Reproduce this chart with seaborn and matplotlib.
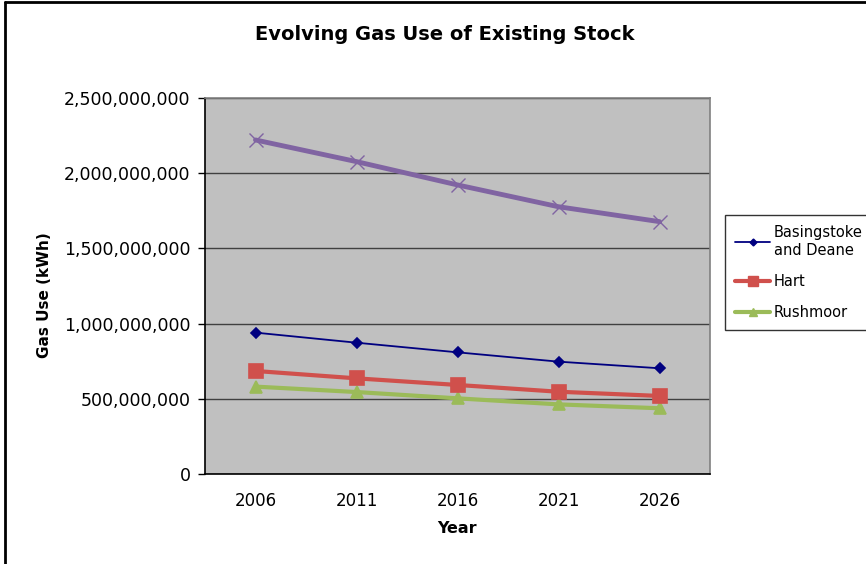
import matplotlib
matplotlib.use("Agg")
import matplotlib.pyplot as plt
import matplotlib.ticker as mticker
from matplotlib.lines import Line2D
import numpy as np
import pandas as pd
import seaborn as sns

years = ["2006", "2011", "2016", "2021", "2026"]
basingstoke = [940e6, 873e6, 809e6, 747e6, 703e6]
hart = [685e6, 636e6, 592e6, 547e6, 519e6]
rushmoor = [581e6, 545e6, 503e6, 463e6, 437e6]
existing_total = [2221e6, 2077e6, 1922e6, 1777e6, 1678e6]

series_names = ["Basingstoke\nand Deane", "Hart", "Rushmoor", "Total"]
series_values = [basingstoke, hart, rushmoor, existing_total]

rows = []
for name, vals in zip(series_names, series_values):
    for i, v in enumerate(vals):
        rows.append({"pos": i, "year": years[i], "series": name, "gas": v})
df = pd.DataFrame(rows)

sns.set_theme(style="white")
plt.rcParams["font.family"] = ["DejaVu Sans"]
plt.rcParams["text.color"] = "black"
plt.rcParams["axes.labelcolor"] = "black"

fig = plt.figure(figsize=(8.66, 5.64), dpi=100)
ax = fig.add_axes([205 / 866, 1 - 474 / 564, 505 / 866, 376 / 564])
ax.set_facecolor("#c0c0c0")

styles = {
    "Basingstoke\nand Deane": dict(color="#000080", marker="D", ms=5, lw=1.3),
    "Hart": dict(color="#d0504c", marker="s", ms=10, lw=3),
    "Rushmoor": dict(color="#9bbb59", marker="^", ms=9, lw=3),
    "Total": dict(color="#8064a2", marker="x", ms=10, lw=3.5),
}

# draw lines from back to front so the blue line sits on top
for name in ["Total", "Rushmoor", "Hart", "Basingstoke\nand Deane"]:
    st = styles[name]
    sub = df[df["series"] == name]
    sns.lineplot(data=sub, x="pos", y="gas", ax=ax, color=st["color"],
                 linewidth=st["lw"], marker=st["marker"], markersize=st["ms"],
                 markeredgecolor=st["color"], markerfacecolor=st["color"],
                 markeredgewidth=1.2 if st["marker"] != "x" else 1.0,
                 legend=False, zorder=3)

ax.set_xlim(-0.5, 4.5)
ax.set_ylim(0, 2.5e9)
ax.set_yticks(np.arange(0, 2.5e9 + 1, 5e8))
ax.yaxis.set_major_formatter(mticker.FuncFormatter(lambda v, p: f"{int(v):,}"))
ax.set_xticks(range(len(years)))
ax.set_xticklabels(years)
ax.set_xticks(np.arange(-0.5, 5, 1), minor=True)
ax.tick_params(axis="x", which="major", length=0, labelsize=12, pad=13, colors="black")
ax.tick_params(axis="x", which="minor", length=5, width=1, color="black", direction="out")
ax.tick_params(axis="y", which="major", length=5, width=1, color="black", direction="out",
               labelsize=12.5, pad=5.5, left=True)
for lbl in ax.get_xticklabels() + ax.get_yticklabels():
    lbl.set_color("black")

ax.grid(axis="y", color="#404040", linewidth=1, zorder=1)
ax.set_axisbelow(True)
for side in ["top", "right"]:
    ax.spines[side].set_color("#808080")
    ax.spines[side].set_linewidth(1.2)
for side in ["left", "bottom"]:
    ax.spines[side].set_color("black")
    ax.spines[side].set_linewidth(1.2)

ax.set_xlabel("Year", fontsize=11.5, fontweight="bold")
ax.set_ylabel("Gas Use (kWh)", fontsize=11, fontweight="bold")
ax.xaxis.set_label_coords(0.5, -0.125)
ax.yaxis.set_label_coords(-0.302, 0.475)

fig.text(445 / 866, 1 - 35 / 564, "Evolving Gas Use of Existing Stock",
         ha="center", va="center", fontsize=14, fontweight="semibold")

handles = [Line2D([0], [0], color=styles[n]["color"], lw=styles[n]["lw"],
                  marker=styles[n]["marker"], ms=styles[n]["ms"] * 0.7,
                  markerfacecolor=styles[n]["color"], markeredgecolor=styles[n]["color"])
           for n in series_names[:3]]
leg = fig.legend(handles, series_names[:3], loc="upper left",
                 bbox_to_anchor=(725 / 866, 1 - 215 / 564), borderaxespad=0,
                 frameon=True, fontsize=10.5, handlelength=2.4, handletextpad=0.25,
                 labelspacing=1.1, borderpad=0.7, fancybox=False)
leg.get_frame().set_edgecolor("black")
leg.get_frame().set_linewidth(1)

# chart border
fig.add_artist(Line2D([5 / 866, 5 / 866], [0, 1 - 2 / 564], transform=fig.transFigure,
                      color="black", lw=2))
fig.add_artist(Line2D([5 / 866, 1], [1 - 2 / 564, 1 - 2 / 564], transform=fig.transFigure,
                      color="black", lw=2))

fig.savefig("out.png", dpi=100, facecolor="white")
